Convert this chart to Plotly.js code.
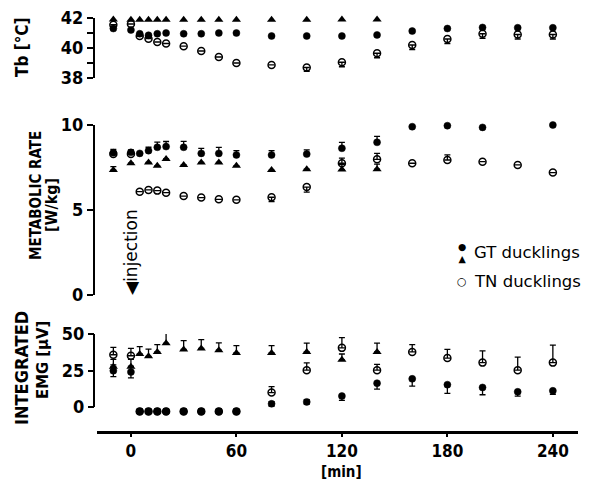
<!DOCTYPE html>
<html>
<head>
<meta charset="utf-8">
<script src="https://cdn.plot.ly/plotly-3.0.1.min.js"></script>
<style>html,body{margin:0;padding:0;background:#fff;}#chart{width:589px;height:492px;}</style>
</head>
<body>
<div id="chart"></div>
<script>
// ---- data ----
const times = [-10, 0, 5, 10, 15, 20, 30, 40, 50, 60, 80, 100, 120, 140, 160, 180, 200, 220, 240];

// Body temperature Tb [°C]
const tbGTcircle = [41.3, 41.2, 40.95, 40.85, 40.95, 41.0, 40.95, 40.95, 41.0, 41.0, 40.8, 40.8, 40.8, 40.87, 41.13, 41.3, 41.37, 41.35, 41.35];
const tbGTtriangle = [41.9, 41.88, 41.88, 41.88, 41.88, 41.88, 41.88, 41.88, 41.88, 41.88, 41.88, 41.88, 41.9, 41.9, null, null, null, null, null];
const tbTN = [41.55, 41.6, 40.8, 40.62, 40.4, 40.3, 40.12, 39.8, 39.4, 39.0, 38.87, 38.7, 39.05, 39.65, 40.2, 40.6, 40.95, 40.9, 40.9];
const tbTNerrMinus = [0, 0, 0, 0, 0, 0, 0, 0, 0, 0, 0, 0.25, 0.3, 0.3, 0.3, 0.3, 0.3, 0.3, 0.3];

// Metabolic rate [W/kg]
const mrGTcircle = [8.37, 8.39, 8.33, 8.49, 8.69, 8.73, 8.69, 8.33, 8.33, 8.24, 8.24, 8.29, 8.63, 8.98, 9.9, 9.96, 9.86, 10.2, 10.0];
const mrGTcircleErr = [0.2, 0.15, 0, 0.2, 0.3, 0.3, 0.35, 0.3, 0.35, 0.25, 0.25, 0.25, 0.35, 0.35, 0, 0, 0.3, 0.4, 0.5];
const mrGTtriangle = [7.35, 7.75, null, 7.8, 7.6, 8.0, 7.65, 7.8, 7.8, 7.6, 7.35, 7.4, 7.38, 7.4, null, null, null, null, null];
const mrGTtriangleErr = [0.2, 0, 0, 0, 0, 0, 0, 0, 0, 0, 0, 0, 0.3, 0.3, 0, 0, 0, 0, 0];
const mrTN = [8.3, 8.3, 6.08, 6.18, 6.14, 6.02, 5.82, 5.73, 5.63, 5.6, 5.75, 6.35, 7.75, 7.98, 7.75, 7.94, 7.84, 7.65, 7.2];
const mrTNerrPlus = [0, 0, 0, 0, 0, 0, 0, 0, 0, 0, 0, 0, 0.3, 0.35, 0, 0.3, 0, 0, 0];
const mrTNerrMinus = [0, 0, 0, 0, 0, 0, 0, 0, 0, 0, 0.25, 0.3, 0, 0, 0, 0, 0, 0, 0];

// Integrated EMG [µV]
const emgGTcircle = [24.8, 24, -3, -3, -3, -3, -3, -3, -3, -3, 2.2, 3.5, 7.5, 16.3, 19.3, 15.3, 13.4, 10.4, 11.1];
const emgGTcirclePlus = [4, 4, 1.5, 1.5, 1.5, 1.5, 1.5, 1.5, 1.5, 1.5, 1.5, 1.5, 0, 0, 0, 0, 0, 0, 0];
const emgGTcircleMinus = [4, 4, 1.5, 1.5, 1.5, 1.5, 1.5, 1.5, 1.5, 1.5, 1.5, 1.5, 3, 4, 5, 6, 5, 3, 2.5];
const emgGTtriangle = [27.6, 27.6, 36.3, 34.7, 37.7, 43.6, 39.4, 40.1, 38.9, 37, 37, 37.7, 32.3, 37.7, null, null, null, null, null];
const emgGTtrianglePlus = [5, 5, 5, 5, 5, 7, 6, 6, 5, 5, 5, 6, 4, 6, 0, 0, 0, 0, 0];
const emgTN = [35.8, 35.1, -3, -3, -3, -3, -3, -3, -3, -3, 9.9, 25.2, 40.5, 25.2, 37.7, 33.5, 30.4, 25.2, 30.4];
const emgTNplus = [5, 5, 0, 0, 0, 0, 0, 0, 0, 0, 4, 5, 7, 4, 5, 6, 8, 9, 12];

const xTickVals = [0, 60, 120, 180, 240];
const xTickText = ['0', '60', '120', '180', '240'];

// ---- styling ----
const NARROW = '"Liberation Sans Narrow", "DejaVu Sans Condensed", "Arial Narrow", sans-serif';
const SANS = '"DejaVu Sans", "Liberation Sans", Arial, sans-serif';
const BLACK = '#000';

function errY(plus, minus) {
  return {type: 'data', symmetric: false, array: plus, arrayminus: minus || plus.map(() => 0),
          color: BLACK, thickness: 1.3, width: 3};
}
function markerStyle(kind) {
  if (kind === 'filled') return {symbol: 'circle', size: 7, color: BLACK, line: {width: 0.5, color: BLACK}};
  if (kind === 'tri') return {symbol: 'triangle-up', size: 8, color: BLACK, line: {width: 0}};
  return {symbol: 'circle-open', size: 7, color: BLACK, line: {width: 1.5, color: BLACK}};
}
function tr(y, xa, ya, kind, name, err) {
  const t = {x: times, y: y, xaxis: xa, yaxis: ya, type: 'scatter', mode: 'markers',
             name: name, showlegend: false, cliponaxis: false, marker: markerStyle(kind)};
  if (err) t.error_y = err;
  return t;
}
const zeros = times.map(() => 0);

const data = [
  tr(tbTN, 'x3', 'y3', 'open', 'TN ducklings', errY(zeros, tbTNerrMinus)),
  tr(tbGTtriangle, 'x3', 'y3', 'tri', 'GT ducklings (triangle)'),
  tr(tbGTcircle, 'x3', 'y3', 'filled', 'GT ducklings'),
  tr(mrTN, 'x2', 'y2', 'open', 'TN ducklings', errY(mrTNerrPlus, mrTNerrMinus)),
  tr(mrGTtriangle, 'x2', 'y2', 'tri', 'GT ducklings (triangle)', errY(mrGTtriangleErr)),
  tr(mrGTcircle, 'x2', 'y2', 'filled', 'GT ducklings', errY(mrGTcircleErr)),
  tr(emgTN, 'x', 'y', 'open', 'TN ducklings', errY(emgTNplus)),
  tr(emgGTtriangle, 'x', 'y', 'tri', 'GT ducklings (triangle)', errY(emgGTtrianglePlus)),
  tr(emgGTcircle, 'x', 'y', 'filled', 'GT ducklings', errY(emgGTcirclePlus, emgGTcircleMinus))
];

const L = 94, R = 11, T = 10, B = 60, W = 589, H = 492;
const pw = W - L - R, ph = H - T - B;
const fx = px => (px - L) / pw;
const fy = py => (H - B - py) / ph;

const yBase = {
  anchor: 'free', position: 0, showgrid: false, zeroline: false,
  showline: true, linecolor: BLACK, linewidth: 2,
  ticks: 'outside', ticklen: 6, tickwidth: 2, tickcolor: BLACK,
  tickfont: {family: NARROW, size: 18, color: BLACK, weight: 700}
};
const xRange = [-19.3, 254.3];
const xHidden = {range: xRange, visible: false, matches: 'x', domain: [fx(97), 1]};

// bottom panel: 0 at 407px, 50 at 334px; range extends below 0 so the near-zero marks stay visible
const emgPxPerUnit = (407 - 334) / 50;
const emgMin = -6;

function ann(px, py, text, size, family, angle, extra) {
  return Object.assign({xref: 'paper', yref: 'paper', x: fx(px), y: fy(py), text: text,
    textangle: angle || 0, showarrow: false, xanchor: 'center', yanchor: 'middle',
    font: {family: family, size: size, color: BLACK}}, extra || {});
}

const layout = {
  width: W, height: H,
  margin: {l: L, r: R, t: T, b: B, pad: 0},
  paper_bgcolor: '#fff', plot_bgcolor: 'rgba(0,0,0,0)',
  showlegend: false,
  xaxis: {
    range: xRange, domain: [fx(97), 1], anchor: 'free', position: 0,
    showgrid: false, zeroline: false, showline: true, linecolor: BLACK, linewidth: 2.5,
    ticks: 'outside', ticklen: 3, tickwidth: 2, tickcolor: BLACK,
    tickvals: xTickVals, ticktext: xTickText,
    tickfont: {family: NARROW, size: 17, color: BLACK, weight: 700}
  },
  xaxis2: Object.assign({}, xHidden, {anchor: 'y2'}),
  xaxis3: Object.assign({}, xHidden, {anchor: 'y3'}),
  yaxis: Object.assign({}, yBase, {domain: [fy(407 - emgMin * emgPxPerUnit), fy(334)], range: [emgMin, 50],
                                    showline: false,
                                    tickvals: [0, 25, 50], ticktext: ['0', '25', '50']}),
  yaxis2: Object.assign({}, yBase, {domain: [fy(295), fy(125)], range: [0, 10],
                                     tickvals: [0, 5, 10], ticktext: ['0', '5', '10']}),
  yaxis3: Object.assign({}, yBase, {domain: [fy(78), fy(18)], range: [38, 42],
                                     tickvals: [38, 39, 40, 41, 42], ticktext: ['38', '', '40', '', '42']}),
  shapes: [
    // the EMG axis line spans only 0..50, as in the reference
    {type: 'line', xref: 'paper', yref: 'y', x0: 0, x1: 0, y0: 0, y1: 50,
     line: {color: BLACK, width: 2}}
  ],
  annotations: [
    ann(22, 47, '<b>Tb [°C]</b>', 17, NARROW, -90),
    ann(36, 196, '<b>METABOLIC RATE</b>', 15, NARROW, -90),
    ann(51, 205, '<b>[W/kg]</b>', 16, NARROW, -90),
    ann(21, 368, '<b>INTEGRATED</b>', 18, NARROW, -90),
    ann(42, 360, '<b>EMG [µV]</b>', 16.5, NARROW, -90),
    Object.assign(ann(131, 252, '◀injection', 17, SANS, -90), {xref: 'x', x: 0}),
    Object.assign(ann(343, 472, '<b>[min]</b>', 15, NARROW, 0), {xref: 'x', x: 120, borderpad: 0}),
    // legend
    ann(462, 252, '●<br>▲', 9.5, SANS, 0),
    ann(472, 252, 'GT ducklings', 16.5, SANS, 0, {xanchor: 'left'}),
    ann(462, 281, '○', 11, SANS, 0),
    ann(472, 281, 'TN ducklings', 16.5, SANS, 0, {xanchor: 'left'})
  ]
};

Plotly.newPlot('chart', data, layout, {displayModeBar: false, staticPlot: true});
</script>
</body>
</html>
